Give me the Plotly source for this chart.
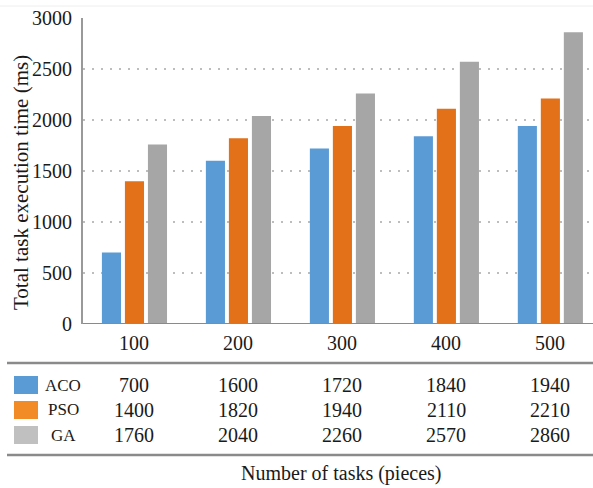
import plotly.graph_objects as go

categories = ["100", "200", "300", "400", "500"]
aco = [700, 1600, 1720, 1840, 1940]
pso = [1400, 1820, 1940, 2110, 2210]
ga = [1760, 2040, 2260, 2570, 2860]
series_names = ["ACO", "PSO", "GA"]
colors = ["#5B9BD5", "#E2711A", "#A6A6A6"]
swatch_colors = ["#5B9BD5", "#F28A25", "#C0C0C0"]

W, H = 593, 488
L, R, T, B = 83, 0, 18, 164
plot_h = H - T - B
plot_w = W - L - R

def py(p):
    return (H - B - p) / plot_h

def px(p):
    return (p - L) / plot_w

FONT = "Liberation Serif, Times New Roman, serif"
TXT = "#1a1a1a"

fig = go.Figure()
for name, vals, c in zip(series_names, [aco, pso, ga], colors):
    fig.add_trace(go.Bar(x=list(range(len(categories))), y=vals, name=name,
                         marker=dict(color=c, line=dict(width=0))))

fig.update_layout(
    width=W, height=H,
    margin=dict(l=L, r=R, t=T, b=B, autoexpand=False),
    paper_bgcolor="white", plot_bgcolor="white",
    barmode="group", bargap=0.336, bargroupgap=0.17,
    showlegend=False,
    font=dict(family=FONT, color=TXT),
)
fig.update_xaxes(range=[-0.495, 4.41], showticklabels=False, showgrid=False,
                 zeroline=False, showline=False)
fig.update_yaxes(range=[0, 3000], tickvals=[0, 500, 1000, 1500, 2000, 2500, 3000],
                 tickfont=dict(size=20, family=FONT, color=TXT),
                 showgrid=True, gridcolor="#BDBDBD", griddash="2px,7px", gridwidth=1.5,
                 showline=True, linecolor="#999", linewidth=2, zeroline=False,
                 ticks="", ticklabelstandoff=5, automargin=False)

shapes = []
# faint top line
shapes.append(dict(type="line", xref="paper", yref="paper", x0=px(0), x1=1,
                   y0=py(6), y1=py(6), line=dict(color="#EEEEEE", width=1)))
# x-axis baseline
shapes.append(dict(type="line", xref="paper", yref="y", x0=0, x1=1, y0=0, y1=0,
                   line=dict(color="#8A8A8A", width=2)))
# table lines
for yl in [363, 455]:
    shapes.append(dict(type="line", xref="paper", yref="paper",
                       x0=px(7), x1=1, y0=py(yl), y1=py(yl),
                       line=dict(color="#8A8A8A", width=2.5)))
# swatches
row_y = [385, 410, 435]
for ry, c in zip(row_y, swatch_colors):
    shapes.append(dict(type="rect", xref="paper", yref="paper",
                       x0=px(14), x1=px(38),
                       y0=py(ry + 9), y1=py(ry - 9), fillcolor=c, line=dict(width=0)))

ann = []
for i, cat in enumerate(categories):
    ann.append(dict(x=i, y=py(343), xref="x", yref="paper", text=cat, showarrow=False,
                    xanchor="center", yanchor="middle",
                    font=dict(size=20, family=FONT, color=TXT)))
for ry, name, vals in zip(row_y, series_names, [aco, pso, ga]):
    ann.append(dict(x=px(63), y=py(ry), xref="paper", yref="paper", text=name,
                    showarrow=False, xanchor="center", yanchor="middle",
                    font=dict(size=17, family=FONT, color=TXT)))
    for i, v in enumerate(vals):
        ann.append(dict(x=i, y=py(ry), xref="x", yref="paper", text=str(v), showarrow=False,
                        xanchor="center", yanchor="middle",
                        font=dict(size=20, family=FONT, color=TXT)))
ann.append(dict(x=px(341), y=py(473), xref="paper", yref="paper",
                text="Number of tasks (pieces)", showarrow=False,
                xanchor="center", yanchor="middle",
                font=dict(size=20, family=FONT, color=TXT)))
ann.append(dict(x=px(21), y=py(183), xref="paper", yref="paper",
                text="Total task execution time (ms)", showarrow=False, textangle=-90,
                xanchor="center", yanchor="middle",
                font=dict(size=21, family=FONT, color=TXT)))

fig.update_layout(shapes=shapes, annotations=ann)
fig.write_html("out.html", config={"displayModeBar": False},
               post_script="document.body.style.margin='0';")
